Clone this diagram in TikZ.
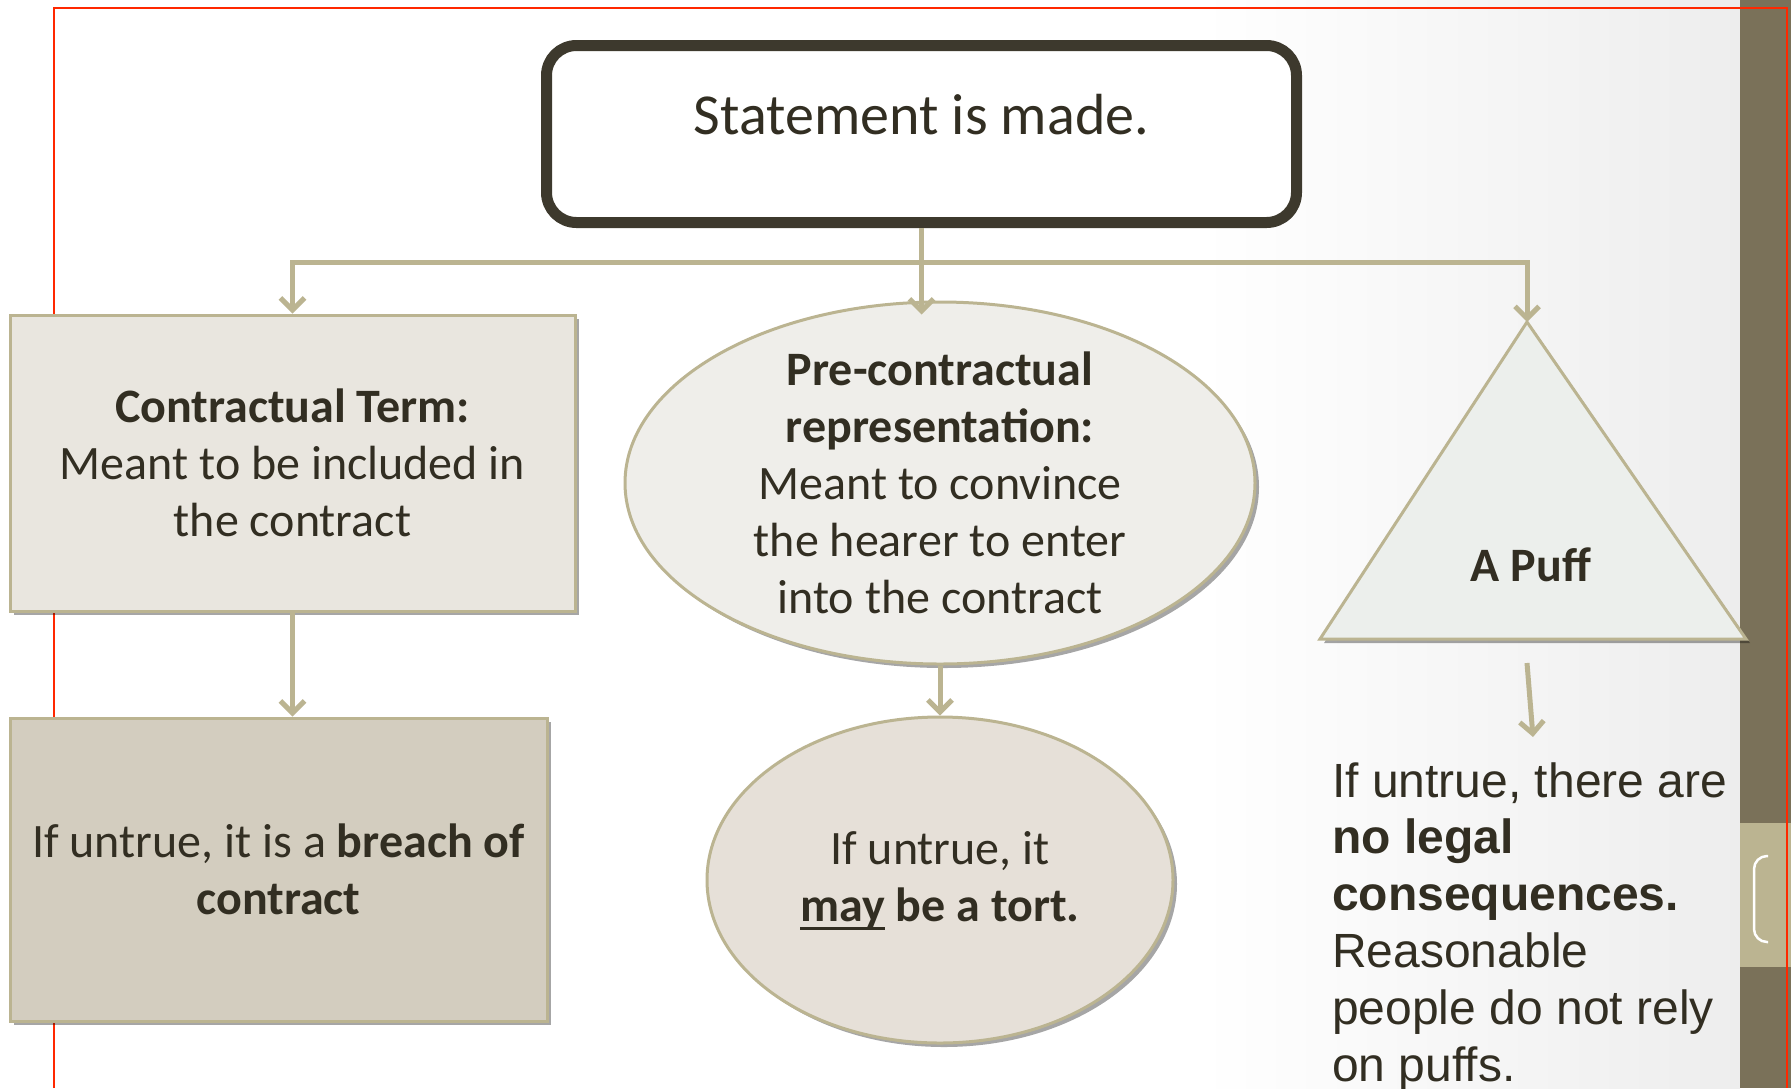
\documentclass[tikz,border=0pt]{standalone}
\usepackage{xcolor}
\usepackage{fontspec}
\setmainfont{Carlito}
\newfontfamily\arialfont{Liberation Sans}
\usepackage{tikz}
\usetikzlibrary{shapes.geometric, arrows.meta, positioning, calc, shadows}
\definecolor{mytext}{RGB}{50,46,34}
\definecolor{myframe}{RGB}{61,57,45}
\definecolor{mytan}{RGB}{187,180,145}
\definecolor{mybar}{RGB}{122,113,89}
\definecolor{myred}{RGB}{255,40,0}
\definecolor{fillterm}{RGB}{233,230,223}
\definecolor{fillbreach}{RGB}{211,205,191}
\definecolor{fillrep}{RGB}{239,238,234}
\definecolor{filltort}{RGB}{230,224,216}
\definecolor{fillpuff}{RGB}{236,239,236}
\newcommand{\thickul}[1]{\setbox0\hbox{#1}\rlap{\smash{\rule[-9pt]{\wd0}{3pt}}}\copy0\relax}
\tikzset{
  bigfont/.style={font=\fontsize{48}{57}\selectfont, text=mytext},
  softshadow/.style={drop shadow={shadow xshift=4pt, shadow yshift=-4pt,
    opacity=0.35, fill=black}},
  stmtbox/.style={rectangle, draw=myframe, fill=white, line width=11pt,
    rounded corners=30pt, minimum width=750pt, minimum height=177pt,
    inner sep=0pt, font=\fontsize{58}{70}\selectfont, text=mytext,
    text height=41pt, text depth=40pt, softshadow},
  termbox/.style={rectangle, draw=mytan, fill=fillterm, line width=3pt,
    align=center, inner sep=0pt, bigfont, softshadow},
  breachbox/.style={termbox, fill=fillbreach},
  repell/.style={ellipse, draw=mytan, fill=fillrep, line width=3pt,
    align=center, inner xsep=0pt, inner ysep=-20pt, bigfont, softshadow},
  tortell/.style={repell, fill=filltort},
  puffshape/.style={draw=mytan, fill=fillpuff, line width=3pt, softshadow},
  puffnote/.style={font=\arialfont\fontsize{48}{57}\selectfont, text=mytext,
    align=left, inner sep=0pt},
  arrow/.style={-{Straight Barb[length=12pt, width=24pt]}, line width=5pt, color=mytan},
  line/.style={line width=5pt, color=mytan}
}

\begin{document}
\begin{tikzpicture}[x=1pt, y=-1pt]
  \useasboundingbox (0,0) rectangle (1791,1088);
  \clip (0,0) rectangle (1791,1088);

  % Background and side bar
  \fill[white] (0,0) rectangle (1791,1088);
  \shade[left color=white, right color=black!7] (1200,0) rectangle (1740,1088);
  \fill[mybar] (1740,0) rectangle (1791,1088);
  \fill[mytan] (1740,823) rectangle (1791,967);
  \draw[white, line width=2.5pt, rounded corners=13pt] (1768,856) -- (1754,856) -- (1754,942) -- (1768,942);
  \draw[myred, line width=2pt] (54,1088) -- (54,8) -- (1787,8) -- (1787,1088);

  % Nodes
  \node[stmtbox] (stmt) at (921.5,134) {Statement is made.};
  \node[termbox, minimum width=565pt, minimum height=296pt] (term) at (292.5,463)
    {\textbf{Contractual Term:}\\Meant to be included in\\the contract};
  \node[breachbox, minimum width=537pt, minimum height=303pt] (breach) at (278.5,869.5)
    {If untrue, it is a \textbf{breach of}\\\textbf{contract}};
  \node[repell, minimum width=630pt, minimum height=362pt] (rep) at (940,483)
    {\textbf{Pre-contractual}\\\textbf{representation:}\\Meant to convince\\the hearer to enter\\into the contract};
  \node[tortell, minimum width=466pt, minimum height=326pt] (tort) at (940,880)
    {If untrue, it\\\textbf{\thickul{may} be a tort.}};

  % Triangle for the puff
  \coordinate (puffapex) at (1527,322);
  \coordinate (puffleft) at (1320,639);
  \coordinate (puffright) at (1746,639);
  \draw[puffshape] (puffapex) -- (puffright) -- (puffleft) -- cycle;
  \node[bigfont, font=\fontsize{48}{57}\selectfont\bfseries] (puff) at (1531,565) {A Puff};
  \node[puffnote, anchor=north west] (consq) at (1332,762)
    {If untrue, there are\\\textbf{no legal}\\\textbf{consequences.}\\Reasonable\\people do not rely\\on puffs.};

  % Connectors
  \coordinate (bus) at ([yshift=-34pt]stmt.south);
  \draw[line] (stmt.south) -- (bus);
  \draw[arrow] (bus) -| (term);
  \draw[arrow] (bus) -- ([yshift=-14pt]bus |- rep.north);
  \draw[arrow] (bus) -| (puffapex);
  \draw[arrow] (term.south) -- (term.south |- breach.north);
  \draw[arrow] (rep.south) -- (tort.north);
  \coordinate (puffout) at (1527,663);
  \coordinate (puffin) at (1533,737);
  \draw[arrow] (puffout) -- (puffin);
\end{tikzpicture}
\end{document}
